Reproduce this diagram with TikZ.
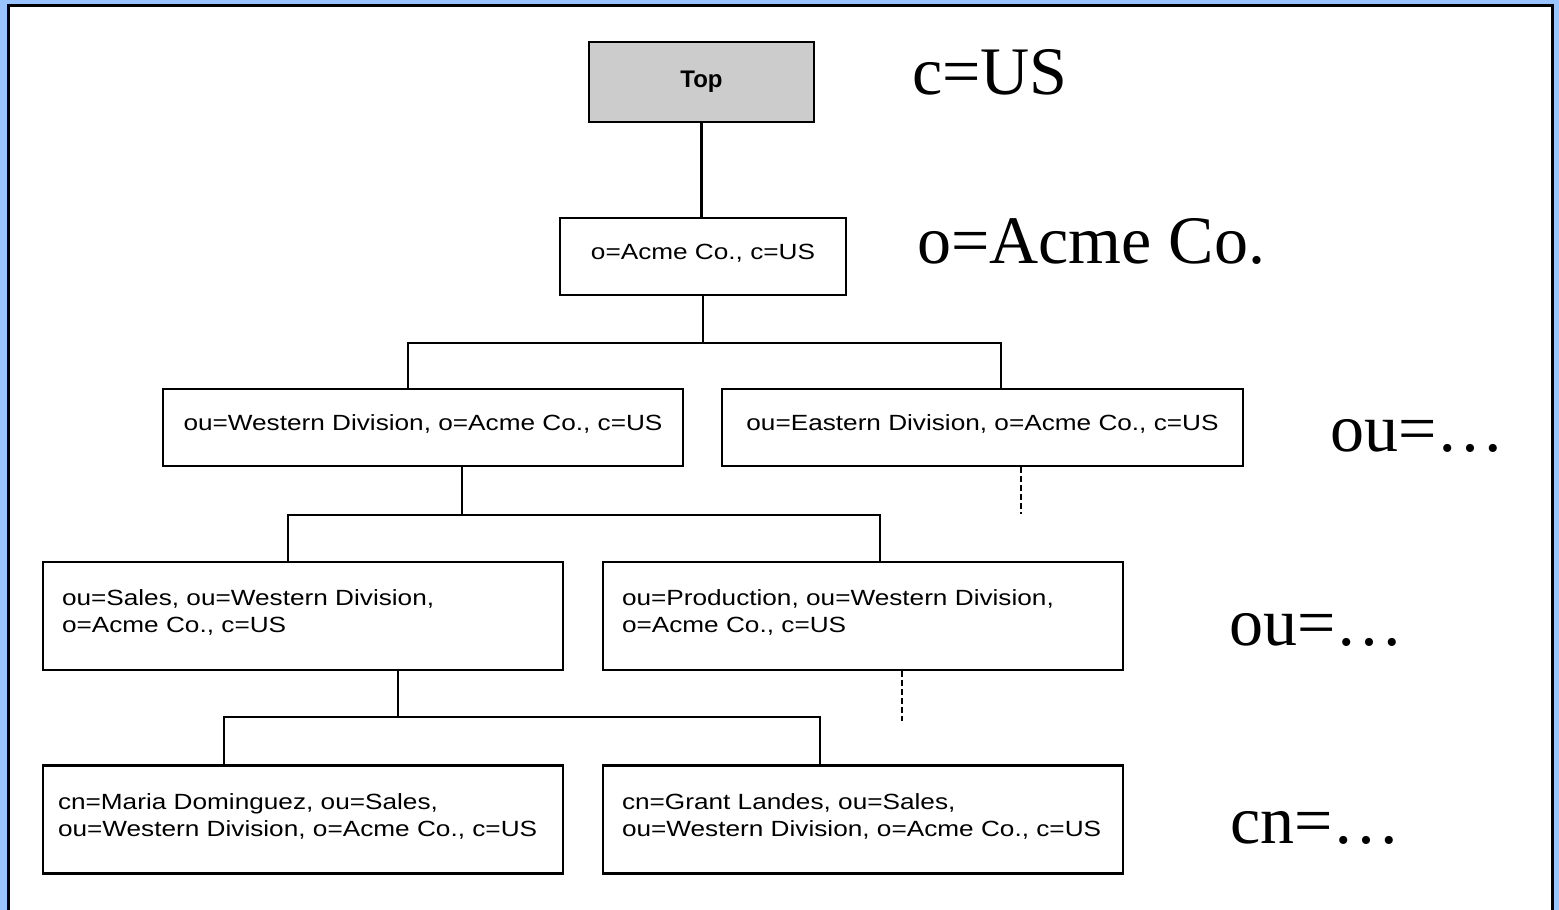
\documentclass[tikz,border=0pt]{standalone}
\usepackage{fontspec}
\setmainfont{Liberation Serif}
\newfontfamily\boxfont[FakeStretch=1.19]{Liberation Sans}
\newfontfamily\topfont{Liberation Sans}
\definecolor{slideblue}{RGB}{153,196,255}

\begin{document}
\begin{tikzpicture}[x=1pt,y=-1pt,
    entry/.style={draw,line width=2.2pt,minimum height=77,inner sep=0,text depth=10pt,
                  font=\boxfont\fontsize{22}{27}\selectfont},
    twoline/.style={entry,minimum height=108,text width=482,align=left,inner xsep=19,
                    text depth=36pt},
    link/.style={line width=2.3pt},
    more/.style={line width=2.5pt,dash pattern=on 6pt off 3pt},
    level/.style={font=\fontsize{68}{80}\selectfont,anchor=base west,inner sep=0}]
  \useasboundingbox (0,0) rectangle (1559,910);
  % slide background and frame
  \fill[slideblue] (0,0) rectangle (1559,910);
  \fill[white] (8,5) rectangle (1552,915);
  \draw[line width=3pt] (8,915) -- (8,5) -- (1552,5) -- (1552,915);

  \node[entry,fill=black!20,minimum width=225,minimum height=80,text depth=5pt,
        font=\topfont\bfseries\fontsize{24}{28}\selectfont] (top) at (701.5,82) {Top};
  \node[entry,minimum width=286] (acme)  at (703,256.5) {o=Acme Co., c=US};
  \node[entry,minimum width=520] (west)  at (423,427.5) {ou=Western Division, o=Acme Co., c=US};
  \node[entry,minimum width=521] (east)  at (982.5,427.5) {ou=Eastern Division, o=Acme Co., c=US};
  \node[twoline] (sales) at (303,616) {ou=Sales, ou=Western Division,\\o=Acme Co., c=US};
  \node[twoline] (prod)  at (863,616) {ou=Production, ou=Western Division,\\o=Acme Co., c=US};
  \node[twoline,inner xsep=15,text width=490] (maria) at (303,819.5)
        {cn=Maria Dominguez, ou=Sales,\\ou=Western Division, o=Acme Co., c=US};
  \node[twoline] (grant) at (863,819.5)
        {cn=Grant Landes, ou=Sales,\\ou=Western Division, o=Acme Co., c=US};

  \draw[link] (top.south) -- (top.south |- acme.north);
  \draw[link] (acme.south) -- ++(0,47) coordinate (fork1)
              -| ([xshift=-15]west.north)
              (fork1) -| ([xshift=18.5]east.north);
  \draw[link] ([xshift=39]west.south) -- ++(0,48) coordinate (fork2)
              -| ([xshift=-15]sales.north)
              (fork2) -| ([xshift=17]prod.north);
  \draw[link] ([xshift=95]sales.south) -- ++(0,46) coordinate (fork3)
              -| ([xshift=-79]maria.north)
              (fork3) -| ([xshift=-43]grant.north);
  \draw[more] ([xshift=38.5]east.south) -- ++(0,47);
  \draw[more] ([xshift=39]prod.south) -- ++(0,50);

  \node[level] (lc)  at (912,94)   {c=US};
  \node[level] (lo)  at (917,263)  {o=Acme Co.};
  \node[level] (lou) at (1330,451) {ou=\dots};
  \node[level] (lsub) at (1229,645) {ou=\dots};
  \node[level] (lcn) at (1230,843) {cn=\dots};
\end{tikzpicture}
\end{document}
